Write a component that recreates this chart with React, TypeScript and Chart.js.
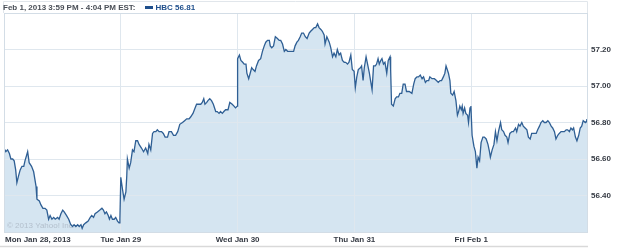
import React, { useEffect, useRef } from 'react';
import { Chart, registerables } from 'chart.js';

Chart.register(...registerables);

const headerText = 'Feb 1, 2013 3:59 PM - 4:04 PM EST:';
const legendText = 'HBC 56.81';
const watermarkText = '\u00a9 2013 Yahoo! Inc.';

const dayLabels = ['Mon Jan 28, 2013', 'Tue Jan 29', 'Wed Jan 30', 'Thu Jan 31', 'Fri Feb 1'];
// minutes since Monday's open (390 trading minutes per session)
const dayOpenMinutes = [0, 390, 780, 1170, 1560];
const sessionEndMinute = 1950;

const yTicks = [56.4, 56.6, 56.8, 57.0, 57.2];
const yMin = 56.2;
const yMax = 57.4;

// [minute, price]
const mon: [number, number][] = [
  [0, 56.66], [6, 56.64], [12, 56.65], [18, 56.63], [23, 56.60], [29, 56.60], [34, 56.59], [39, 56.54], [43, 56.47], [49, 56.51],
  [54, 56.54], [60, 56.56], [66, 56.56], [70, 56.59], [79, 56.64], [84, 56.58], [92, 56.56], [99, 56.53], [107, 56.45], [110, 56.38],
  [118, 56.37], [123, 56.35], [130, 56.33], [137, 56.33], [143, 56.32], [149, 56.27], [154, 56.29], [160, 56.27], [166, 56.28], [171, 56.27],
  [179, 56.28], [184, 56.27], [190, 56.30], [196, 56.32], [201, 56.31], [209, 56.29], [216, 56.27], [223, 56.24], [229, 56.23], [234, 56.24],
  [240, 56.23], [246, 56.24], [251, 56.23], [257, 56.24], [261, 56.22], [266, 56.24], [273, 56.25], [281, 56.26], [288, 56.28], [293, 56.29],
  [299, 56.28], [304, 56.30], [312, 56.31], [320, 56.32], [327, 56.33], [332, 56.32], [337, 56.30], [342, 56.31], [348, 56.29], [352, 56.27],
  [357, 56.29], [362, 56.27], [368, 56.27], [373, 56.28], [379, 56.26], [384, 56.25], [387, 56.27],
];

const tue: [number, number][] = [
  [390, 56.50], [396, 56.43], [401, 56.38], [407, 56.42], [410, 56.51], [412, 56.60], [418, 56.55], [423, 56.58], [429, 56.65], [434, 56.64],
  [440, 56.70], [446, 56.70], [451, 56.68], [459, 56.66], [466, 56.64], [473, 56.66], [480, 56.63], [484, 56.68], [490, 56.65], [496, 56.74],
  [501, 56.75], [507, 56.75], [512, 56.76], [518, 56.75], [526, 56.75], [532, 56.74], [538, 56.72], [546, 56.72], [551, 56.75], [559, 56.75],
  [566, 56.73], [573, 56.73], [580, 56.75], [587, 56.79], [596, 56.80], [603, 56.81], [610, 56.82], [618, 56.82], [623, 56.83], [631, 56.85],
  [638, 56.88], [643, 56.90], [651, 56.90], [657, 56.90], [662, 56.91], [667, 56.93], [671, 56.90], [677, 56.91], [681, 56.92], [687, 56.93],
  [693, 56.92], [699, 56.90], [707, 56.86], [712, 56.86], [718, 56.85], [723, 56.86], [729, 56.85], [734, 56.86], [740, 56.87], [748, 56.87],
  [754, 56.91], [762, 56.90], [768, 56.89], [773, 56.88], [779, 56.89],
];

const wed: [number, number][] = [
  [780, 57.15], [786, 57.17], [791, 57.14], [797, 57.13], [802, 57.12], [808, 57.12], [811, 57.07], [817, 57.04], [822, 57.07], [827, 57.10],
  [832, 57.09], [838, 57.08], [843, 57.11], [850, 57.14], [857, 57.15], [863, 57.19], [869, 57.22], [874, 57.24], [880, 57.25], [886, 57.25],
  [889, 57.22], [894, 57.21], [900, 57.22], [906, 57.27], [913, 57.26], [919, 57.25], [924, 57.25], [930, 57.23], [936, 57.19], [941, 57.20],
  [947, 57.19], [954, 57.19], [961, 57.19], [967, 57.19], [972, 57.22], [978, 57.24], [983, 57.25], [989, 57.27], [994, 57.29], [1000, 57.29],
  [1006, 57.27], [1012, 57.26], [1019, 57.29], [1024, 57.30], [1030, 57.31], [1036, 57.32], [1041, 57.32], [1047, 57.34], [1052, 57.32], [1058, 57.31],
  [1063, 57.30], [1069, 57.28], [1072, 57.23], [1078, 57.27], [1086, 57.24], [1091, 57.21], [1097, 57.16], [1102, 57.18], [1108, 57.16], [1113, 57.20],
  [1119, 57.17], [1124, 57.18], [1130, 57.14], [1136, 57.13], [1141, 57.13], [1147, 57.12], [1152, 57.13], [1158, 57.17], [1163, 57.09], [1169, 57.08],
];

const thu: [number, number][] = [
  [1173, 56.99], [1178, 57.05], [1183, 57.09], [1190, 57.10], [1194, 57.11], [1199, 57.03], [1203, 57.10], [1209, 57.16], [1214, 57.12], [1220, 57.07],
  [1224, 57.03], [1229, 56.98], [1234, 57.11], [1240, 57.11], [1244, 57.12], [1249, 57.15], [1253, 57.12], [1258, 57.14], [1262, 57.15], [1267, 57.12],
  [1272, 57.13], [1278, 57.07], [1283, 57.14], [1289, 57.16], [1291, 57.09], [1294, 56.90], [1300, 56.89], [1306, 56.93], [1311, 56.94], [1317, 56.94],
  [1322, 56.96], [1328, 56.96], [1333, 57.01], [1339, 57.01], [1344, 56.97], [1353, 56.97], [1362, 56.96], [1368, 57.01], [1373, 57.04], [1379, 57.05],
  [1384, 57.05], [1390, 57.06], [1396, 57.04], [1401, 57.05], [1407, 57.02], [1412, 57.03], [1418, 57.03], [1422, 57.05], [1429, 57.04], [1437, 57.04],
  [1444, 57.03], [1450, 57.02], [1456, 57.03], [1461, 57.03], [1467, 57.05], [1472, 57.07], [1476, 57.11], [1480, 57.09], [1484, 57.07], [1489, 57.03],
  [1492, 56.96], [1498, 56.95], [1503, 56.97], [1509, 56.92], [1514, 56.84], [1518, 56.86], [1522, 56.89], [1527, 56.87], [1530, 56.89], [1533, 56.85],
  [1538, 56.88], [1542, 56.85], [1548, 56.84], [1551, 56.80], [1556, 56.88], [1559, 56.89],
];

const fri: [number, number][] = [
  [1563, 56.73], [1569, 56.67], [1574, 56.64], [1579, 56.55], [1583, 56.61], [1588, 56.59], [1593, 56.69], [1599, 56.72], [1604, 56.72], [1610, 56.71],
  [1616, 56.68], [1621, 56.64], [1624, 56.61], [1630, 56.65], [1636, 56.68], [1641, 56.75], [1646, 56.70], [1651, 56.75], [1658, 56.80], [1662, 56.76],
  [1668, 56.75], [1673, 56.73], [1679, 56.72], [1683, 56.69], [1689, 56.74], [1696, 56.75], [1701, 56.75], [1708, 56.77], [1712, 56.75], [1718, 56.79],
  [1723, 56.78], [1729, 56.80], [1734, 56.78], [1740, 56.77], [1746, 56.76], [1751, 56.72], [1757, 56.71], [1762, 56.74], [1769, 56.74], [1777, 56.74],
  [1782, 56.76], [1788, 56.78], [1793, 56.80], [1799, 56.81], [1804, 56.80], [1810, 56.80], [1816, 56.81], [1821, 56.80], [1827, 56.78], [1832, 56.77],
  [1838, 56.75], [1843, 56.71], [1849, 56.73], [1854, 56.74], [1860, 56.75], [1866, 56.75], [1871, 56.75], [1877, 56.76], [1882, 56.76], [1888, 56.75],
  [1893, 56.77], [1898, 56.76], [1902, 56.77], [1908, 56.72], [1913, 56.70], [1919, 56.73], [1924, 56.77], [1929, 56.78], [1934, 56.81], [1941, 56.80],
  [1947, 56.81], [1950, 56.81],
];

const LINE = '#2f5f94';
const FILL = '#d5e5f1';
const GRID = '#dfe7ee';
const LABEL = '#363b44';
const FONT = "'Liberation Sans', Arial, sans-serif";

export default function App() {
  const ref = useRef<HTMLCanvasElement | null>(null);

  useEffect(() => {
    const canvas = ref.current;
    if (!canvas) return;
    const points = [...mon, ...tue, ...wed, ...thu, ...fri].map(([x, y]) => ({ x, y }));
    const lastIndex = points.length - 1;

    const framePlugin = {
      id: 'frame',
      beforeDatasetDraw(chart: any) {
        const { ctx, chartArea } = chart;
        ctx.save();
        ctx.font = `8px ${FONT}`;
        ctx.fillStyle = '#b3bfcc';
        ctx.textAlign = 'left';
        ctx.textBaseline = 'middle';
        ctx.fillText(watermarkText, chartArea.left + 3, chartArea.bottom - 6);
        ctx.restore();
      },
      afterDraw(chart: any) {
        const { ctx, chartArea, scales } = chart;
        const { left, right, top, bottom } = chartArea;
        ctx.save();
        // header box
        ctx.strokeStyle = '#e1e6eb';
        ctx.lineWidth = 1;
        ctx.beginPath();
        ctx.moveTo(left - 0.5, top);
        ctx.lineTo(left - 0.5, 1.5);
        ctx.lineTo(right - 0.5, 1.5);
        ctx.lineTo(right - 0.5, top);
        ctx.stroke();
        // plot frame
        ctx.strokeStyle = '#d3dde6';
        ctx.strokeRect(left + 0.5, top + 0.5, right - left - 1, bottom - top);
        // bottom rule
        ctx.strokeStyle = '#d9d9d9';
        ctx.lineWidth = 1.5;
        ctx.beginPath();
        ctx.moveTo(0, 246.5);
        ctx.lineTo(right, 246.5);
        ctx.stroke();
        // x labels
        ctx.font = `bold 8px ${FONT}`;
        ctx.fillStyle = LABEL;
        ctx.textBaseline = 'middle';
        dayLabels.forEach((label, i) => {
          const px = scales.x.getPixelForValue(dayOpenMinutes[i]);
          ctx.textAlign = i === 0 ? 'left' : 'center';
          ctx.fillText(label, i === 0 ? px + 1 : px, 240);
        });
        ctx.restore();
      },
    };

    const chart = new Chart(canvas, {
      type: 'line',
      data: {
        datasets: [
          {
            data: points,
            borderColor: LINE,
            borderWidth: 1.3,
            backgroundColor: FILL,
            fill: 'start',
            tension: 0,
            pointStyle: 'rect',
            pointRadius: (c: any) => (c.dataIndex === lastIndex ? 2.5 : 0),
            pointBackgroundColor: LINE,
            pointBorderWidth: 0,
          },
        ],
      },
      options: {
        animation: false,
        responsive: false,
        maintainAspectRatio: false,
        layout: { padding: { left: 2, top: 13, bottom: 16, right: 0 } },
        plugins: {
          legend: { display: false },
          tooltip: { enabled: false },
          filler: { drawTime: 'beforeDraw' },
        },
        scales: {
          x: {
            type: 'linear',
            min: 0,
            max: sessionEndMinute,
            afterBuildTicks: (s: any) => {
              s.ticks = dayOpenMinutes.slice(1).map((v) => ({ value: v }));
            },
            afterFit: (s: any) => {
              s.height = 0;
            },
            ticks: { display: false },
            grid: { color: GRID, lineWidth: 1, drawTicks: false },
            border: { display: false },
          },
          y: {
            position: 'right',
            min: yMin,
            max: yMax,
            afterBuildTicks: (s: any) => {
              s.ticks = yTicks.map((v) => ({ value: v }));
            },
            afterFit: (s: any) => {
              s.width = 37;
            },
            ticks: {
              callback: (v: any) => Number(v).toFixed(2),
              font: { family: FONT, size: 8, weight: 'bold' },
              color: LABEL,
              padding: 3,
            },
            grid: { color: GRID, lineWidth: 1, drawTicks: false },
            border: { display: false },
          },
        },
      },
      plugins: [framePlugin],
    } as any);

    return () => chart.destroy();
  }, []);

  return (
    <div style={{ position: 'absolute', left: 0, top: 0, width: 625, height: 248, background: '#fff' }}>
      <canvas ref={ref} width={625} height={248} style={{ display: 'block', width: 625, height: 248 }} />
      <div
        style={{
          position: 'absolute',
          left: 3,
          top: 2,
          height: 11,
          lineHeight: '11px',
          whiteSpace: 'nowrap',
          font: `bold 8px ${FONT}`,
          color: '#4a4f57',
          display: 'flex',
          alignItems: 'center',
        }}
      >
        <span>{headerText}</span>
        <span style={{ display: 'inline-block', width: 8, height: 3, background: '#1f4f8c', marginLeft: 9, marginRight: 3 }} />
        <span style={{ color: '#1f4f8c' }}>{legendText}</span>
      </div>
    </div>
  );
}
